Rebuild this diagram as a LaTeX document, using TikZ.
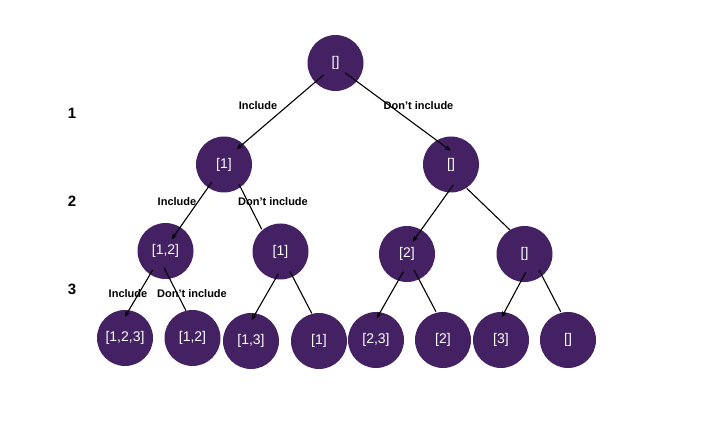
\documentclass[tikz,border=0pt]{standalone}
\usepackage{fontspec}
\setmainfont{Liberation Sans}
\usetikzlibrary{arrows.meta,calc}
\definecolor{nodepurple}{RGB}{68,33,98}
\tikzset{
  x=1pt, y=-1pt,
  tnode/.style={circle, fill=nodepurple, draw=none, minimum size=56pt, inner sep=0pt, text=white, font=\fontsize{14}{16}\selectfont},
  lbl/.style={font=\bfseries\fontsize{11}{13}\selectfont, inner sep=0pt},
  lvl/.style={font=\bfseries\fontsize{15}{17}\selectfont, inner sep=0pt},
  arr/.style={draw=black, line width=1.1pt, -{Stealth[length=6pt,width=5pt]}},
  plain/.style={draw=black, line width=1.1pt}
}
\begin{document}
\begin{tikzpicture}
\useasboundingbox (0,0) rectangle (709,438);
% nodes
\node[tnode] (r) at (335.5,63) {[]};
\node[tnode] (a) at (224,164.5) {[1]};
\node[tnode] (b) at (451,164.5) {[]};
\node[tnode] (aa) at (165.5,251) {[1,2]};
\node[tnode] (ab) at (280.5,251.5) {[1]};
\node[tnode] (ba) at (407,254) {[2]};
\node[tnode] (bb) at (524.5,254) {[]};
\node[tnode] (aaa) at (125,338) {[1,2,3]};
\node[tnode] (aab) at (192.5,338) {[1,2]};
\node[tnode] (aba) at (251,341) {[1,3]};
\node[tnode] (abb) at (319,341) {[1]};
\node[tnode] (baa) at (376,340) {[2,3]};
\node[tnode] (bab) at (443,340) {[2]};
\node[tnode] (bba) at (501,340) {[3]};
\node[tnode] (bbb) at (568,340) {[]};
% edges
\draw[arr] ($(r)+(-12,12)$) -- ($(a)+(12.7,-15.2)$);
\draw[arr] ($(r)+(9.5,9.7)$) -- ($(b)+(-0.3,-13.8)$);
\draw[arr] ($(a)+(-12.3,17.8)$) -- ($(aa)+(6.2,-11.7)$);
\draw[plain] ($(a)+(15,19.8)$) -- ($(ab)+(-18.8,-22.2)$);
\draw[arr] ($(b)+(2.3,20.5)$) -- ($(ba)+(5.7,-12.3)$);
\draw[plain] ($(b)+(15.7,23.8)$) -- ($(bb)+(-14.5,-24)$);
\draw[arr] ($(aa)+(-12.8,19)$) -- ($(aaa)+(0,-21.3)$);
\draw[plain] ($(aa)+(-1.5,16.7)$) -- ($(aab)+(-6.5,-27.3)$);
\draw[arr] ($(ab)+(-2.2,22.3)$) -- ($(aba)+(0.7,-21)$);
\draw[plain] ($(ab)+(9.5,20)$) -- ($(abb)+(-7.3,-27.7)$);
\draw[arr] ($(ba)+(-3.7,17.7)$) -- ($(baa)+(0.7,-21.7)$);
\draw[plain] ($(ba)+(7,16)$) -- ($(bab)+(-7,-28.3)$);
\draw[arr] ($(bb)+(1.2,18.3)$) -- ($(bba)+(0.7,-22.7)$);
\draw[plain] ($(bb)+(14.5,16)$) -- ($(bbb)+(-7.3,-28.3)$);
% labels
\node[lbl] (l1) at (258,106) {Include};
\node[lbl] (l2) at (418.5,106) {Don’t include};
\node[lbl] (l3) at (177,201.5) {Include};
\node[lbl] (l4) at (273,201.5) {Don’t include};
\node[lbl] (l5) at (128,294) {Include};
\node[lbl] (l6) at (192,294) {Don’t include};
% level numbers
\node[lvl] (n1) at (72,113) {1};
\node[lvl] (n2) at (72,201) {2};
\node[lvl] (n3) at (72,289) {3};
\end{tikzpicture}
\end{document}
